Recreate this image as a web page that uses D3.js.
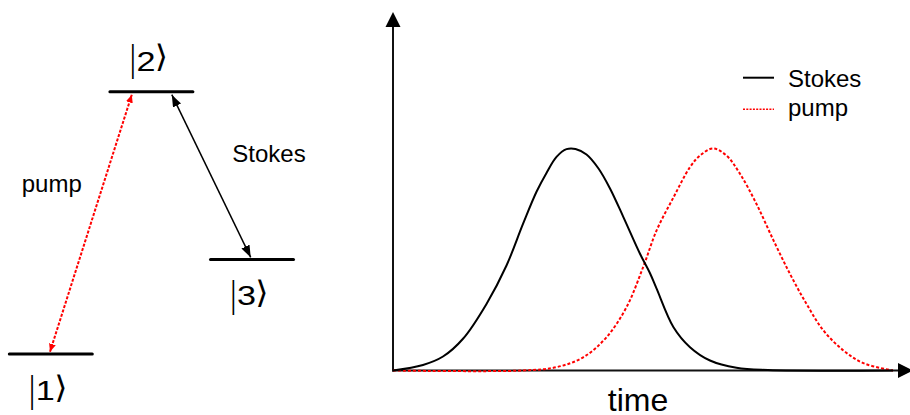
<!DOCTYPE html>
<html>
<head>
<meta charset="utf-8">
<script src="https://cdn.jsdelivr.net/npm/d3@7"></script>
<style>
  html, body { margin: 0; padding: 0; background: #fff; }
  svg { display: block; }
  text { font-family: "Liberation Sans", Arial, sans-serif; fill: #000; }
</style>
</head>
<body>
<svg id="chart" width="910" height="415"></svg>
<script>
// ---- Three-level system (Lambda configuration) ----
const levelNames   = ["1", "2", "3"];
const levelEnergy  = [0, 1, 0.36];     // relative energies
const levelColumn  = [0, 1, 2];
const transitions  = [
  { from: 0, to: 1, name: "pump",   kind: "pump"   },
  { from: 2, to: 1, name: "Stokes", kind: "stokes" }
];

// ---- Pulse envelopes vs. time (counter-intuitive ordering) ----
const stokesTime  = [0, 6, 10, 14, 18.7, 22.7, 26, 28.7, 30.7, 32.7, 34.7, 36.5, 38.7, 41.1, 43.4, 46.1, 49.4, 51.4, 52.7, 56.1, 59.4, 63.4, 68.7, 75, 100];
const stokesValue = [0, 0.025, 0.063, 0.143, 0.30, 0.473, 0.66, 0.805, 0.89, 0.962, 0.997, 0.998, 0.973, 0.91, 0.82, 0.69, 0.526, 0.438, 0.37, 0.195, 0.105, 0.045, 0.012, 0.002, 0];
const pumpTime    = [0, 26, 32.7, 38.1, 42.7, 46.7, 50.1, 52.7, 56.1, 59.4, 61.4, 64, 66.7, 69.4, 72.7, 76.1, 79.4, 82.7, 86.1, 90.1, 94.1, 100];
const pumpValue   = [0, 0, 0.015, 0.06, 0.15, 0.285, 0.47, 0.63, 0.78, 0.916, 0.968, 1.0, 0.968, 0.886, 0.75, 0.586, 0.435, 0.30, 0.18, 0.09, 0.033, 0];
const seriesNames = ["Stokes", "pump"];
const axisTitle   = "time";

const svg = d3.select("#chart");

// ================= Level diagram =================
const ex = d3.scaleLinear().domain([0, 2]).range([50.8, 252]);
const ey = d3.scaleLinear().domain([0, 1]).range([354, 91.7]);
const halfW = 41.5;

const diag = svg.append("g");
const defs = svg.append("defs");

function headMarker(id, color, w, h) {
  const m = defs.append("marker")
    .attr("id", id)
    .attr("viewBox", `0 0 ${w} ${h}`)
    .attr("refX", w).attr("refY", h / 2)
    .attr("markerWidth", w).attr("markerHeight", h)
    .attr("markerUnits", "userSpaceOnUse")
    .attr("orient", "auto-start-reverse");
  m.append("path").attr("d", `M0,0L${w},${h / 2}L0,${h}Z`).attr("fill", color);
}
headMarker("headBlack", "#000", 12, 9);
headMarker("headRed", "#ff0000", 8, 7);

diag.selectAll("line.level")
  .data(levelNames)
  .join("line")
  .attr("class", "level")
  .attr("x1", (d, i) => ex(levelColumn[i]) - halfW)
  .attr("x2", (d, i) => ex(levelColumn[i]) + halfW)
  .attr("y1", (d, i) => ey(levelEnergy[i]))
  .attr("y2", (d, i) => ey(levelEnergy[i]))
  .attr("stroke", "#000")
  .attr("stroke-width", 3)
  .attr("stroke-linecap", "round");

// ket labels |n⟩: above the upper level, below the lower ones.
// Each ket is one group anchored at the digit baseline; bar and bracket
// are set slightly condensed / widened like an equation-editor ket.
const isUpper = i => levelEnergy[i] === 1;
const ket = diag.selectAll("g.ket")
  .data(levelNames)
  .join("g")
  .attr("class", "ket")
  .attr("transform", (d, i) => {
    const base = isUpper(i) ? ey(levelEnergy[i]) - 20.5 : ey(levelEnergy[i]) + 45.5;
    return `translate(${ex(levelColumn[i])},${base})`;
  });
ket.append("text")
  .attr("transform", (d, i) => `translate(-18.7,${isUpper(i) ? -0.5 : 2}) scale(0.55,1)`)
  .attr("text-anchor", "middle")
  .style("font-size", "36px")
  .text("|");
ket.append("text")
  .attr("transform", "translate(-5.5,0) scale(1.2,1)")
  .attr("text-anchor", "middle")
  .style("font-size", "28.5px")
  .text(d => d);
ket.append("text")
  .attr("transform", (d, i) => `translate(10,${isUpper(i) ? -4.3 : -2}) scale(1.1,1)`)
  .attr("text-anchor", "middle")
  .style("font-size", "31px")
  .style("font-family", "'DejaVu Sans', sans-serif")
  .text("\u27E9");

// transition arrows (double-headed)
transitions.forEach(t => {
  const isPump = t.kind === "pump";
  const upperX = ex(levelColumn[t.to]) + (isPump ? -19.6 : 20.4);
  const lowerX = ex(levelColumn[t.from]) + (isPump ? -0.8 : -1.3);
  const upperY = ey(levelEnergy[t.to]) + 3;
  const lowerY = ey(levelEnergy[t.from]) - 2.2;
  diag.append("line")
    .attr("x1", lowerX).attr("y1", lowerY)
    .attr("x2", upperX).attr("y2", upperY)
    .attr("stroke", isPump ? "#ff0000" : "#000")
    .attr("stroke-width", isPump ? 2 : 1.5)
    .attr("stroke-dasharray", isPump ? "3,1.6" : null)
    .attr("marker-start", isPump ? "url(#headRed)" : "url(#headBlack)")
    .attr("marker-end", isPump ? "url(#headRed)" : "url(#headBlack)");
});

diag.append("text").attr("x", 21.7).attr("y", 191.7)
  .style("font-size", "24px").text(transitions[0].name);
diag.append("text").attr("x", 232.3).attr("y", 161.7)
  .style("font-size", "24px").text(transitions[1].name);

// ================= Pulse sequence plot =================
const x = d3.scaleLinear().domain([0, 100]).range([393, 893]);
const y = d3.scaleLinear().domain([0, 1]).range([370.5, 148.5]);

const plot = svg.append("g");

// axes with arrowheads
const yTop = 1.615, xEnd = 104;
plot.append("line")
  .attr("x1", x(0)).attr("x2", x(0))
  .attr("y1", y(0) + 1).attr("y2", y(yTop) + 12)
  .attr("stroke", "#111").attr("stroke-width", 2);
plot.append("path")
  .attr("d", `M${x(0)},${y(yTop)}L${x(0) - 7.5},${y(yTop) + 15}L${x(0) + 7.5},${y(yTop) + 15}Z`)
  .attr("fill", "#000");
plot.append("line")
  .attr("x1", x(0) - 1).attr("x2", x(xEnd) - 12)
  .attr("y1", y(0)).attr("y2", y(0))
  .attr("stroke", "#111").attr("stroke-width", 2);
plot.append("path")
  .attr("d", `M${x(xEnd)},${y(0)}L${x(xEnd) - 15},${y(0) - 7.5}L${x(xEnd) - 15},${y(0) + 7.5}Z`)
  .attr("fill", "#000");

const line = d3.line()
  .x(d => x(d[0]))
  .y(d => y(d[1]))
  .curve(d3.curveCatmullRom.alpha(0.5));

plot.append("path")
  .datum(pumpTime.map((t, i) => [t, pumpValue[i]]))
  .attr("d", line)
  .attr("fill", "none")
  .attr("stroke", "#ff0000")
  .attr("stroke-width", 2)
  .attr("stroke-dasharray", "3,2");

plot.append("path")
  .datum(stokesTime.map((t, i) => [t, stokesValue[i]]))
  .attr("d", line)
  .attr("fill", "none")
  .attr("stroke", "#000")
  .attr("stroke-width", 2);

plot.append("text")
  .attr("x", x(49)).attr("y", 410.5)
  .attr("text-anchor", "middle")
  .style("font-size", "32px")
  .text(axisTitle);

// legend
const legend = plot.append("g");
const legendRows = [
  { name: seriesNames[0], color: "#000", dash: null, width: 2, ly: 77.7, ty: 86.5 },
  { name: seriesNames[1], color: "#ff0000", dash: "2,1.3", width: 1.5, ly: 109.3, ty: 116 }
];
legendRows.forEach(r => {
  legend.append("line")
    .attr("x1", 743).attr("x2", 774)
    .attr("y1", r.ly).attr("y2", r.ly)
    .attr("stroke", r.color).attr("stroke-width", r.width)
    .attr("stroke-dasharray", r.dash);
  legend.append("text")
    .attr("x", 788).attr("y", r.ty)
    .style("font-size", "24px")
    .text(r.name);
});
</script>
</body>
</html>
